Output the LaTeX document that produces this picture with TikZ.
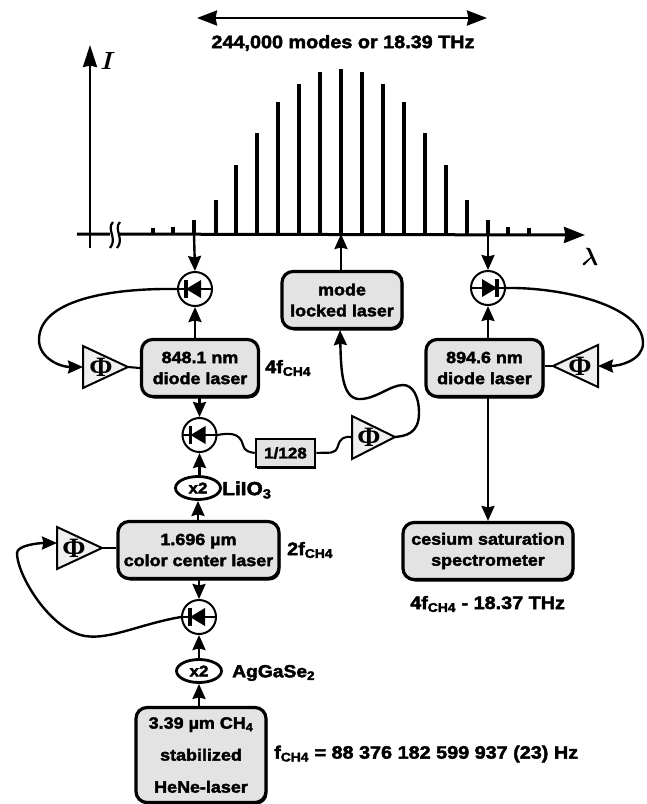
\documentclass[tikz,border=0pt]{standalone}
\usepackage{fontspec}
\setmainfont[BoldFeatures={FakeBold=2.4,FakeStretch=1.1}]{Liberation Sans}
\newfontfamily\phifont{Liberation Serif}
\usetikzlibrary{arrows.meta,shadows,shapes.geometric}
\newcommand{\fch}{f\textsubscript{CH4}}
\tikzset{
  wire/.style={line width=2.1pt},
  feed/.style={line width=2.4pt,-{Stealth[inset=1.5pt,length=15pt,width=13pt]}},
  laserbox/.style={rounded corners=11pt,draw,line width=3.2pt,fill=gray!22,
    drop shadow={shadow xshift=1.4pt,shadow yshift=-2pt,fill=black,opacity=1},
    align=center,font=\fontsize{16.3}{21}\selectfont\bfseries,inner sep=0pt},
  photod/.style={circle,draw,line width=2pt,fill=white,minimum size=34pt,inner sep=0pt},
  doubler/.style={ellipse,draw,line width=2.8pt,fill=white,minimum width=45pt,minimum height=23pt,inner sep=0pt,
    font=\fontsize{15.5}{15}\selectfont\bfseries},
  amptri/.style={draw,line width=2pt,fill=gray!12,line join=miter},
  phisym/.style={font=\fontsize{28}{28}\selectfont\phifont\bfseries,inner sep=0pt},
  lab/.style={inner sep=0pt,anchor=west,font=\fontsize{18}{20}\selectfont\bfseries},
  bar/.style={line width=3.2pt},
}
\newcommand{\diodesym}[2]{%
  \draw[line width=2pt] (#1.west) -- (#1.east);
  \fill ([xshift=#2*9pt]#1.center) -- ([xshift=-#2*6pt,yshift=9pt]#1.center) -- ([xshift=-#2*6pt,yshift=-9pt]#1.center) -- cycle;
  \draw[line width=3.2pt] ([xshift=#2*9pt,yshift=9pt]#1.center) -- ([xshift=#2*9pt,yshift=-9pt]#1.center);
}
\begin{document}
\begin{tikzpicture}[x=1pt,y=-1pt]
\useasboundingbox (0,0) rectangle (646,804);
% axes
\coordinate (ax0) at (77,234);
\coordinate (ax1) at (585,235);
\coordinate (ay0) at (90,248);
\coordinate (ay1) at (90,45);
\draw[line width=3pt,-{Stealth[inset=1.5pt,length=21pt,width=16pt]}] (ax0) -- (ax1);
\draw[line width=2.6pt,-{Stealth[inset=1.5pt,length=22pt,width=14pt]}] (ay0) -- (ay1);
\node[inner sep=0pt,font=\fontsize{25}{25}\selectfont\boldmath] (ilab) at (108,61) {$I$};
\node[inner sep=0pt,font=\fontsize{26}{26}\selectfont\boldmath] (llab) at (590,257) {$\lambda$};
% axis break
\fill[white] (110,228) rectangle (119,241);
\draw[line width=2.2pt] (113,222) .. controls (106,229) and (118,239) .. (110,248);
\draw[line width=2.2pt] (120,222) .. controls (113,229) and (125,239) .. (117,248);
% comb
\foreach \x/\t in {153/228,173/227,216/200,236/165,257/133,278/102,299/84,320/72,362/72,383/84,404/102,425/133,446/165,467/200,508/227,529/228}
  \draw[bar] (\x,234) -- (\x,\t);
\draw[line width=4pt] (341,234) -- (341,69);
\coordinate (c1) at (194,234);
\coordinate (c2) at (341,234);
\coordinate (c3) at (488,234);
\draw[bar] (c1) -- (194,220);
\draw[bar] (c3) -- (488,220);
% span
\coordinate (sp0) at (197,18);
\coordinate (sp1) at (487,18);
\draw[line width=2.6pt,{Stealth[inset=1.5pt,length=20pt,width=15pt]}-{Stealth[inset=1.5pt,length=20pt,width=15pt]}] (sp0) -- (sp1);
\node[inner sep=0pt,font=\fontsize{18}{20}\selectfont\bfseries] (spl) at (343,43) {244,000 modes or 18.39 THz};
% boxes
\node[laserbox,minimum width=117pt,minimum height=57pt] (l848) at (200,368) {848.1 nm\\diode laser};
\node[laserbox,minimum width=117pt,minimum height=57pt] (l894) at (484.5,368) {894.6 nm\\diode laser};
\node[laserbox,minimum width=120pt,minimum height=57pt] (mll) at (342,300) {mode\\locked laser};
\node[laserbox,minimum width=161pt,minimum height=57pt] (ccl) at (198.5,550) {1.696 µm\\color center laser};
\node[laserbox,minimum width=170pt,minimum height=57pt] (cs) at (488,551) {cesium saturation\\spectrometer};
\node[laserbox,minimum width=130pt,minimum height=95pt,font=\fontsize{16.3}{32}\selectfont\bfseries] (hene) at (201,755) {3.39 µm CH\textsubscript{4}\\stabilized\\HeNe-laser};
\node[draw,line width=2.6pt,fill=gray!22,minimum width=59pt,minimum height=28pt,inner sep=0pt,
  drop shadow={shadow xshift=.8pt,shadow yshift=-1.5pt,fill=black,opacity=1},
  font=\fontsize{15.5}{15}\selectfont\bfseries] (div) at (285.5,453) {1/128};
% doublers
\node[doubler] (x2a) at (198,488) {x2};
\node[doubler] (x2b) at (199,671) {x2};
% photodiodes
\node[photod] (d1) at (195,289) {};
\node[photod] (d2) at (199.5,435) {};
\node[photod] (d3) at (199,617) {};
\node[photod] (d4) at (488,288) {};
\diodesym{d1}{-1}
\diodesym{d2}{-1}
\diodesym{d3}{-1}
\diodesym{d4}{1}
% amplifiers
\coordinate (a1b) at (83,367);
\coordinate (a1t) at (128,367);
\draw[amptri] (83,346) -- (a1t) -- (83,388) -- cycle;
\node[phisym] (a1) at (101,367) {Φ};
\coordinate (a2b) at (57,543);
\coordinate (a2t) at (102,548);
\draw[amptri] (57,527) -- (a2t) -- (57,569) -- cycle;
\node[phisym] (a2) at (74,548) {Φ};
\coordinate (a3b) at (352,437);
\coordinate (a3t) at (395,437);
\draw[amptri] (352,416) -- (a3t) -- (352,459) -- cycle;
\node[phisym] (a3) at (369,437) {Φ};
\coordinate (a4b) at (598,366);
\coordinate (a4t) at (553,366);
\draw[amptri] (598,345) -- (a4t) -- (598,387) -- cycle;
\node[phisym] (a4) at (580,366) {Φ};
% vertical connections
\draw[feed] (c1) -- (d1.north);
\draw[feed] (d1 |- l848.north) -- (d1.south);
\draw[feed] (l848.south -| d2) -- (d2.north);
\draw[feed] (x2a.north -| d2) -- (d2.south);
\draw[feed] (x2a |- ccl.north) -- (x2a.south);
\draw[feed] (ccl.south -| d3) -- (d3.north);
\draw[feed] (x2b.north) -- (d3.south);
\draw[feed] (x2b |- hene.north) -- (x2b.south);
\draw[feed] (c3) -- (d4.north);
\draw[feed] (d4 |- l894.north) -- (d4.south);
\draw[feed] (d4 |- l894.south) -- (d4 |- cs.north);
\draw[feed] (mll.north -| c2) -- (c2);
% short stubs from amplifier to laser
\draw[wire] (a1t) -- (l848.west);
\draw[wire] (a2t) -- (ccl.west |- a2t);
\draw[wire] (a4t) -- (l894.east |- a4t);
% curved feedback
\draw[feed] (d1.west) .. controls (110,288) and (39,300) .. (39,340) .. controls (39,358) and (60,367) .. (a1b);
\draw[feed] (d3.west) .. controls (140,624) and (110,640) .. (85,636) .. controls (50,630) and (17,575) .. (17,553) .. controls (17,545) and (40,543) .. (a2b);
\draw[feed] (d4.east) .. controls (560,287) and (643,305) .. (643,343) .. controls (643,360) and (620,366) .. (a4b);
\draw[wire] (d2.east) .. controls (228,433) and (240,432) .. (243,445) .. controls (245,452) and (250,452) .. (div.west);
\draw[wire] (div.east) .. controls (330,452) and (335,455) .. (338,446) .. controls (340,438) and (345,436) .. (a3b);
\draw[feed] (a3t) .. controls (405,436) and (419,434) .. (419,413) .. controls (419,395) and (412,385) .. (403,385) .. controls (390,385) and (375,400) .. (358,399) .. controls (342,397) and (341,370) .. (mll.south -| 340,0);
% labels
\node[lab] (t1) at (265,368) {4\fch};
\node[lab] (t2) at (287,550) {2\fch};
\node[lab,font=\fontsize{19}{20}\selectfont\bfseries] (t3) at (222,490) {LiIO\textsubscript{3}};
\node[lab,font=\fontsize{17.5}{20}\selectfont\bfseries] (t4) at (232,673) {AgGaSe\textsubscript{2}};
\node[lab] (t5) at (410,604) {4\fch{} - 18.37 THz};
\node[lab] (t6) at (274,754) {\fch{} = 88 376 182 599 937 (23) Hz};
\end{tikzpicture}
\end{document}
